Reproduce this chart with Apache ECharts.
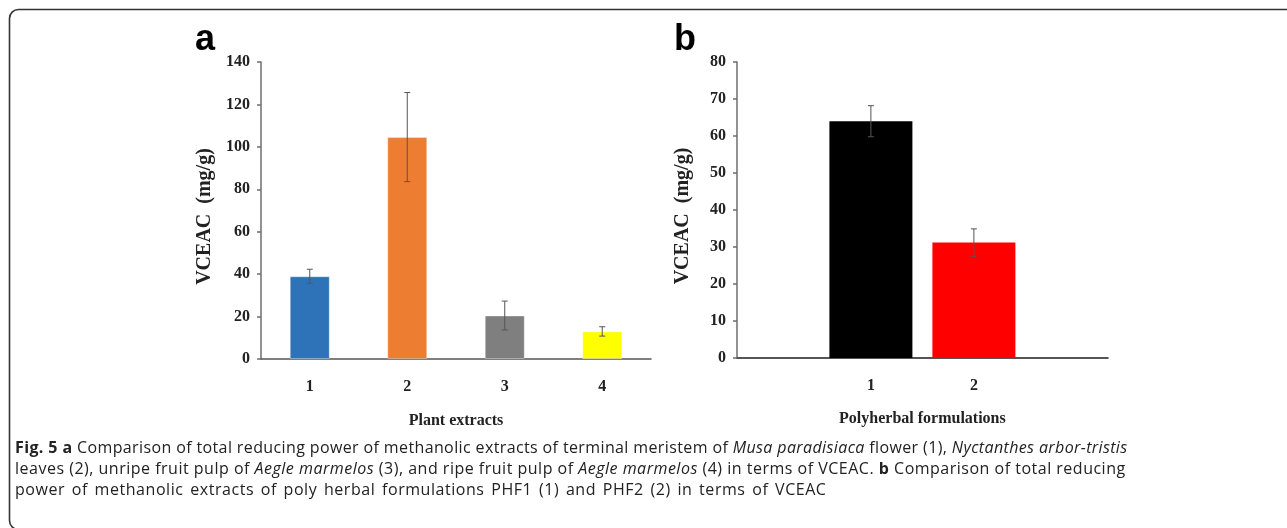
<!DOCTYPE html>
<html>
<head>
<meta charset="utf-8">
<script src="https://cdn.jsdelivr.net/npm/echarts@6/dist/echarts.min.js"></script>
<style>
  html, body { margin: 0; padding: 0; background: #fff; }
  #chart { width: 1287px; height: 528px; position: absolute; left: 0; top: 0; }
  #caption {
    position: absolute; left: 15px; top: 437px;
    font-family: "Open Sans", sans-serif; font-size: 16px; line-height: 21px;
    color: #222; white-space: nowrap;
  }
  #caption i { font-style: italic; }
  #caption .l1 { letter-spacing: 0.38px; }
  #caption .l2 { letter-spacing: 0.5px; }
  #caption .l3 { letter-spacing: 0.55px; word-spacing: 2px; }
</style>
</head>
<body>
<div id="chart"></div>
<div id="caption"><span class="l1"><b>Fig. 5 a</b> Comparison of total reducing power of methanolic extracts of terminal meristem of <i>Musa paradisiaca</i> flower (1), <i>Nyctanthes arbor-tristis</i></span><br><span class="l2">leaves (2), unripe fruit pulp of <i>Aegle marmelos</i> (3), and ripe fruit pulp of <i>Aegle marmelos</i> (4) in terms of VCEAC. <b>b</b> Comparison of total reducing</span><br><span class="l3">power of methanolic extracts of poly herbal formulations PHF1 (1) and PHF2 (2) in terms of VCEAC</span></div>
<script>
// ---- Data ----
const categoriesA = ['1', '2', '3', '4'];
const valuesA = [39, 104.6, 20.5, 13];
const errorsA = [3.3, 21, 6.8, 2.2];
const colorsA = ['#2E73B8', '#ED7D31', '#7F7F7F', '#FFFF00'];
const yTicksA = { min: 0, max: 140, interval: 20 };

const categoriesB = ['1', '2'];
const valuesB = [64, 31.2];
const errorsB = [4.2, 3.7];
const colorsB = ['#000000', '#FF0000'];
const yTicksB = { min: 0, max: 80, interval: 10 };

const nameA = { y: 'VCEAC  (mg/g)', x: 'Plant extracts' };
const nameB = { y: 'VCEAC  (mg/g)', x: 'Polyherbal formulations' };

// padded category slots for panel b (positions of 1 and 2 on a wide axis)
const slotsB = 18, posB = [6, 11];
const axisB = [];
for (let i = 0; i < slotsB; i++) axisB.push('_' + i);
categoriesB.forEach((c, k) => { axisB[posB[k]] = c; });

const serif = '"Liberation Serif", "Times New Roman", serif';
const axisColor = '#6e6e6e';

function errRender(params, api) {
  const x = api.value(0), v = api.value(1), e = api.value(2);
  const t = api.coord([x, v + e]);
  const b = api.coord([x, v - e]);
  const hw = 3;
  const st = { stroke: '#555', lineWidth: 1 };
  return {
    type: 'group',
    children: [
      { type: 'line', shape: { x1: t[0], y1: t[1], x2: b[0], y2: b[1] }, style: st },
      { type: 'line', shape: { x1: t[0] - hw, y1: t[1], x2: t[0] + hw, y2: t[1] }, style: st },
      { type: 'line', shape: { x1: b[0] - hw, y1: b[1], x2: b[0] + hw, y2: b[1] }, style: st }
    ]
  };
}

function yAxisCfg(gridIndex, ticks, name, gap) {
  return {
    type: 'value', gridIndex, min: ticks.min, max: ticks.max, interval: ticks.interval,
    name, nameLocation: 'middle', nameGap: gap, nameRotate: 90,
    nameTextStyle: { fontFamily: serif, fontWeight: 'bold', fontSize: 20, color: '#222', padding: [0, 12, 0, 0] },
    axisLine: { show: true, lineStyle: { color: axisColor, width: 1.5 } },
    axisTick: { show: true, length: 4, lineStyle: { color: axisColor, width: 1.5 } },
    axisLabel: { fontFamily: serif, fontWeight: 'bold', fontSize: 16, color: '#222', margin: 11 },
    splitLine: { show: false }
  };
}

const isReal = (v) => !String(v).startsWith('_');

const option = {
  animation: false,
  backgroundColor: '#fff',
  grid: [
    { left: 261, top: 62, width: 390, height: 297 },
    { left: 737, top: 62, width: 370.8, height: 296 }
  ],
  xAxis: [
    {
      type: 'category', gridIndex: 0, data: categoriesA,
      name: nameA.x, nameLocation: 'middle', nameGap: 54,
      nameTextStyle: { fontFamily: serif, fontWeight: 'bold', fontSize: 16, color: '#222' },
      axisLine: { lineStyle: { color: '#555', width: 1.5 } },
      axisTick: { alignWithLabel: true, length: 5, lineStyle: { color: '#555', width: 1.5 } },
      axisLabel: { fontFamily: serif, fontWeight: 'bold', fontSize: 16, color: '#222', margin: 20 }
    },
    {
      type: 'category', gridIndex: 1, data: axisB,
      name: nameB.x, nameLocation: 'middle', nameGap: 53,
      nameTextStyle: { fontFamily: serif, fontWeight: 'bold', fontSize: 16, color: '#222' },
      axisLine: { lineStyle: { color: '#555', width: 2 } },
      axisTick: { alignWithLabel: true, length: 5, interval: (i, v) => isReal(v), lineStyle: { color: '#777', width: 1.5 } },
      axisLabel: {
        fontFamily: serif, fontWeight: 'bold', fontSize: 16, color: '#222', margin: 20,
        interval: (i, v) => isReal(v), formatter: (v) => isReal(v) ? v : ''
      }
    }
  ],
  yAxis: [
    yAxisCfg(0, yTicksA, nameA.y, 46),
    yAxisCfg(1, yTicksB, nameB.y, 44)
  ],
  graphic: [
    { type: 'rect', shape: { x: 9.5, y: 9.5, width: 1300, height: 520, r: 9 },
      style: { fill: 'none', stroke: '#333', lineWidth: 1.6 }, silent: true, z: 100 },
    { type: 'text', style: { x: 195, y: 40, text: 'a', font: 'bold 36px "Liberation Sans", Arial, sans-serif', fill: '#000', verticalAlign: 'middle' } },
    { type: 'text', style: { x: 674, y: 40, text: 'b', font: 'bold 36px "Liberation Sans", Arial, sans-serif', fill: '#000', verticalAlign: 'middle' } }
  ],
  series: [
    {
      type: 'bar', xAxisIndex: 0, yAxisIndex: 0, barWidth: 40,
      data: valuesA.map((v, i) => ({ value: v, itemStyle: { color: colorsA[i], borderColor: 'rgba(255,255,255,0.35)', borderWidth: 1 } }))
    },
    {
      type: 'custom', xAxisIndex: 0, yAxisIndex: 0, renderItem: errRender, z: 5,
      data: valuesA.map((v, i) => [i, v, errorsA[i]])
    },
    {
      type: 'bar', xAxisIndex: 1, yAxisIndex: 1, barWidth: 83,
      data: valuesB.map((v, i) => ({ value: [posB[i], v], itemStyle: { color: colorsB[i] } }))
    },
    {
      type: 'custom', xAxisIndex: 1, yAxisIndex: 1, renderItem: errRender, z: 5,
      data: valuesB.map((v, i) => [posB[i], v, errorsB[i]])
    }
  ]
};

const chart = echarts.init(document.getElementById('chart'), null, { renderer: 'canvas' });
chart.setOption(option);
</script>
</body>
</html>
